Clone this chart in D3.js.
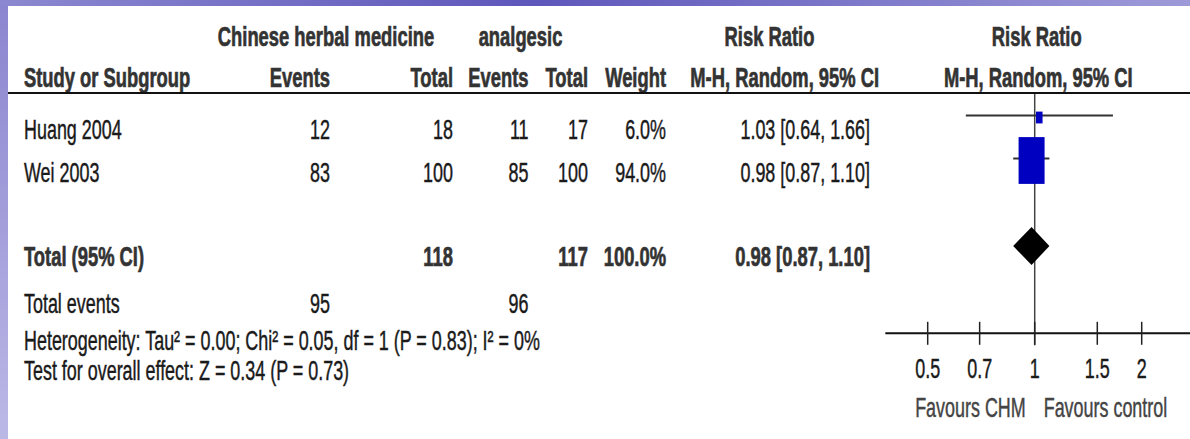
<!DOCTYPE html>
<html>
<head>
<meta charset="utf-8">
<script src="https://cdn.jsdelivr.net/npm/d3@7"></script>
<style>
  body { margin: 0; padding: 0; overflow: hidden; background: #fff; }
  text { font-family: "Liberation Sans", Arial, sans-serif; font-size: 27.5px; }
</style>
</head>
<body>
<div id="visualization"></div>
<script>
// study level data
var studies    = ["Huang 2004", "Wei 2003"];
var chmEvents  = [12, 83];
var chmTotal   = [18, 100];
var ctlEvents  = [11, 85];
var ctlTotal   = [17, 100];
var weights    = [6.0, 94.0];
var rr         = [1.03, 0.98];
var rrLow      = [0.64, 0.87];
var rrHigh     = [1.66, 1.10];

// pooled result
var totalChm = 118, totalCtl = 117, totalWeight = 100.0;
var totalRR = [0.98, 0.87, 1.10];
var eventsChm = 95, eventsCtl = 96;
var hetText  = "Heterogeneity: Tau\u00b2 = 0.00; Chi\u00b2 = 0.05, df = 1 (P = 0.83); I\u00b2 = 0%";
var testText = "Test for overall effect: Z = 0.34 (P = 0.73)";

var tickValues = [0.5, 0.7, 1, 1.5, 2];
var axisExtent = [0.38, 2.75];

var W = 1190, H = 439;
var sx = 0.652, sxBold = 0.668;   // narrow font look
var ink = "#1a1a1a", headInk = "#333";

var svg = d3.select("#visualization").append("svg")
    .attr("width", W)
    .attr("height", H);

// slide background
var defs = svg.append("defs");
var gTop = defs.append("linearGradient").attr("id", "gtop");
gTop.append("stop").attr("offset", "0%").attr("stop-color", "#8c88d0");
gTop.append("stop").attr("offset", "45%").attr("stop-color", "#5e57bb");
gTop.append("stop").attr("offset", "100%").attr("stop-color", "#9e9ad8");
var gLeft = defs.append("linearGradient").attr("id", "gleft")
    .attr("x1", 0).attr("y1", 0).attr("x2", 0).attr("y2", 1);
gLeft.append("stop").attr("offset", "0%").attr("stop-color", "#8a85cf");
gLeft.append("stop").attr("offset", "100%").attr("stop-color", "#bcb8e6");

svg.append("rect").attr("width", W).attr("height", H).attr("fill", "url(#gleft)");
svg.append("rect").attr("width", W).attr("height", 6).attr("fill", "url(#gtop)");
svg.append("rect").attr("x", 8).attr("y", 6).attr("width", W - 8).attr("height", H - 6).attr("fill", "#fff");

function txt(x, y, s, anchor, bold, color) {
    return svg.append("text")
        .attr("transform", "translate(" + x + "," + y + ") scale(" + (bold ? sxBold : sx) + ",1)")
        .attr("text-anchor", anchor || "start")
        .attr("font-weight", bold ? "bold" : "normal")
        .attr("fill", color || ink)
        .attr("stroke", color || ink)
        .attr("stroke-width", bold ? 0.7 : 0.45)
        .text(s);
}

// column positions
var col = {study: 24, e1: 330, t1: 453, e2: 528.5, t2: 588, w: 666, ci: 870};

// headers
txt(326, 45.5, "Chinese herbal medicine", "middle", true, headInk);
txt(520.5, 45.5, "analgesic", "middle", true, headInk);
txt(769.5, 45.5, "Risk Ratio", "middle", true, headInk);
txt(1036.7, 45.5, "Risk Ratio", "middle", true, headInk);

txt(col.study, 86.5, "Study or Subgroup", "start", true, headInk);
txt(col.e1, 86.5, "Events", "end", true, headInk);
txt(col.t1, 86.5, "Total", "end", true, headInk);
txt(col.e2, 86.5, "Events", "end", true, headInk);
txt(col.t2, 86.5, "Total", "end", true, headInk);
txt(col.w, 86.5, "Weight", "end", true, headInk);
txt(784.7, 86.5, "M-H, Random, 95% CI", "middle", true, headInk);
txt(1038.3, 86.5, "M-H, Random, 95% CI", "middle", true, headInk);

svg.append("line")
    .attr("x1", 8).attr("x2", W)
    .attr("y1", 93).attr("y2", 93)
    .attr("stroke", "#111").attr("stroke-width", 2);

// scales
var x = d3.scaleLog().domain([0.5, 2]).range([927.7, 1141.7]);
var y = d3.scaleLinear().domain([0, 1]).range([138.5, 181.5]);
var boxW = d3.scaleSqrt().domain([0, 94]).range([0, 26]);
var boxAspect = 1.8;

function fmt(v) { return v.toFixed(2); }

var rows = studies.map(function(s, i) {
    return {name: s, e1: chmEvents[i], t1: chmTotal[i], e2: ctlEvents[i], t2: ctlTotal[i],
            w: weights[i], rr: rr[i], lo: rrLow[i], hi: rrHigh[i], i: i};
});

rows.forEach(function(d) {
    var by = y(d.i);
    txt(col.study, by, d.name);
    txt(col.e1, by, d.e1, "end");
    txt(col.t1, by, d.t1, "end");
    txt(col.e2, by, d.e2, "end");
    txt(col.t2, by, d.t2, "end");
    txt(col.w, by, d.w.toFixed(1) + "%", "end");
    txt(col.ci, by, fmt(d.rr) + " [" + fmt(d.lo) + ", " + fmt(d.hi) + "]", "end");
});

// total rows
var yTot = 265.5;
txt(col.study, yTot, "Total (95% CI)", "start", true, headInk);
txt(col.t1, yTot, totalChm, "end", true, headInk);
txt(col.t2, yTot, totalCtl, "end", true, headInk);
txt(col.w, yTot, totalWeight.toFixed(1) + "%", "end", true, headInk);
txt(col.ci, yTot, fmt(totalRR[0]) + " [" + fmt(totalRR[1]) + ", " + fmt(totalRR[2]) + "]", "end", true, headInk);

txt(col.study, 313, "Total events");
txt(col.e1, 313, eventsChm, "end");
txt(col.e2, 313, eventsCtl, "end");
txt(col.study, 349.5, hetText);
txt(col.study, 380, testText);

// forest plot
var yAxis = 333.3;
svg.append("line")
    .attr("x1", x(1)).attr("x2", x(1))
    .attr("y1", 94).attr("y2", yAxis + 12)
    .attr("stroke", "#444").attr("stroke-width", 1.5);

svg.selectAll(".ci")
    .data(rows)
    .enter().append("line")
    .attr("class", "ci")
    .attr("x1", function(d) { return x(d.lo); })
    .attr("x2", function(d) { return x(d.hi); })
    .attr("y1", function(d) { return y(d.i) - 23; })
    .attr("y2", function(d) { return y(d.i) - 23; })
    .attr("stroke", "#333").attr("stroke-width", 2);

svg.selectAll(".box")
    .data(rows)
    .enter().append("rect")
    .attr("class", "box")
    .attr("x", function(d) { return x(d.rr) - boxW(d.w) / 2; })
    .attr("width", function(d) { return boxW(d.w); })
    .attr("y", function(d) { return y(d.i) - 21 - boxW(d.w) * boxAspect / 2; })
    .attr("height", function(d) { return boxW(d.w) * boxAspect; })
    .attr("fill", "#0000c0");

var dy = yTot - 19.5, dh = 19;
svg.append("path")
    .attr("d", "M" + x(totalRR[1]) + "," + dy +
               "L" + x(totalRR[0]) + "," + (dy - dh) +
               "L" + x(totalRR[2]) + "," + dy +
               "L" + x(totalRR[0]) + "," + (dy + dh) + "Z")
    .attr("fill", "#000");

// axis
svg.append("line")
    .attr("x1", x(axisExtent[0])).attr("x2", Math.min(W, x(axisExtent[1])))
    .attr("y1", yAxis).attr("y2", yAxis)
    .attr("stroke", "#111").attr("stroke-width", 2);

svg.selectAll(".tick")
    .data(tickValues)
    .enter().append("line")
    .attr("class", "tick")
    .attr("x1", function(d) { return x(d); })
    .attr("x2", function(d) { return x(d); })
    .attr("y1", yAxis - 11.5).attr("y2", yAxis + 11.5)
    .attr("stroke", "#222").attr("stroke-width", 1.5);

tickValues.forEach(function(d) {
    txt(x(d), 378, d, "middle");
});

txt(x(1) - 9, 417, "Favours CHM", "end", false, "#444");
txt(x(1) + 9, 417, "Favours control", "start", false, "#444");
</script>
</body>
</html>
